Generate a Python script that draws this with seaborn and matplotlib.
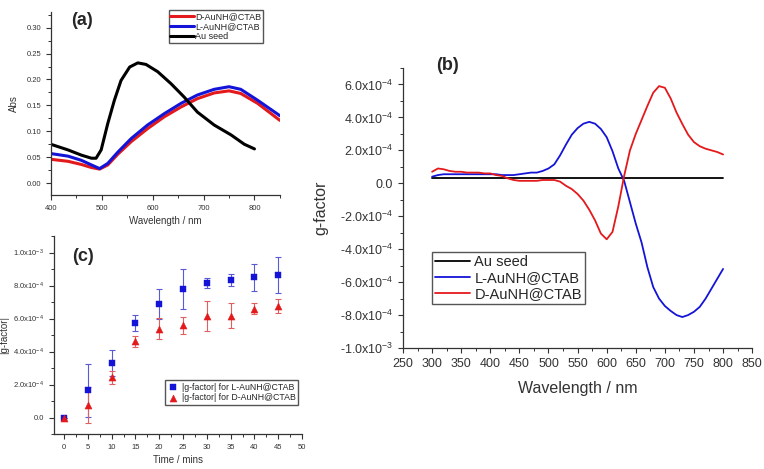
import numpy as np
import pandas as pd
import matplotlib
matplotlib.use("Agg")
import matplotlib.pyplot as plt
import seaborn as sns
from matplotlib.ticker import MultipleLocator, FuncFormatter

# ---- panel (a): absorbance spectra ----
seed_wl = [400, 434, 460, 480, 489, 499, 512, 525, 538, 555, 571, 587, 610, 636, 662, 688, 721, 754, 780, 800]
seed_abs = [0.075, 0.064, 0.054, 0.048, 0.048, 0.064, 0.115, 0.160, 0.198, 0.224, 0.232, 0.229, 0.215, 0.192, 0.166, 0.137, 0.112, 0.093, 0.075, 0.066]

nh_wl = [400, 434, 460, 480, 496, 512, 532, 558, 590, 623, 656, 688, 721, 750, 773, 806, 850]
l_abs = [0.057, 0.052, 0.044, 0.035, 0.028, 0.038, 0.060, 0.086, 0.112, 0.134, 0.154, 0.170, 0.181, 0.186, 0.181, 0.160, 0.130]
d_abs = [0.046, 0.042, 0.036, 0.030, 0.027, 0.035, 0.056, 0.080, 0.105, 0.128, 0.147, 0.163, 0.174, 0.178, 0.173, 0.154, 0.121]

# ---- panel (b): g-factor spectra (units of 1e-4), 300..800 nm every 10 nm ----
cd_wl = np.arange(300, 801, 10)
seed_g = [0.3] * 51
l_g = [0.4, 0.5, 0.55, 0.55, 0.55, 0.55, 0.55, 0.55, 0.55, 0.55,
       0.55, 0.55, 0.5, 0.5, 0.5, 0.55, 0.6, 0.65, 0.65, 0.75,
       0.9, 1.15, 1.7, 2.35, 2.95, 3.35, 3.62, 3.73, 3.62, 3.3,
       2.8, 1.95, 0.9, 0.15, -1.15, -2.45, -3.6, -5.1, -6.3, -7.0,
       -7.45, -7.75, -8.0, -8.12, -8.0, -7.8, -7.5, -7.0, -6.4, -5.8,
       -5.2]
d_g = [0.7, 0.9, 0.85, 0.75, 0.7, 0.7, 0.65, 0.65, 0.65, 0.6,
       0.6, 0.5, 0.45, 0.3, 0.2, 0.15, 0.15, 0.15, 0.15, 0.2,
       0.2, 0.2, 0.1, -0.15, -0.35, -0.65, -1.05, -1.6, -2.25, -3.05,
       -3.4, -2.95, -1.4, 0.45, 2.0, 3.0, 3.85, 4.7, 5.5, 5.9,
       5.8, 5.15, 4.3, 3.6, 2.95, 2.5, 2.25, 2.1, 2.0, 1.9,
       1.75]

# ---- panel (c): |g-factor| vs time (units of 1e-4) ----
times = [0, 5, 10, 15, 20, 25, 30, 35, 40, 45]
l_abs_g = [0.0, 1.65, 3.3, 5.74, 6.9, 7.79, 8.13, 8.33, 8.49, 8.65]
l_err = [0.0, 1.6, 0.8, 0.48, 0.9, 1.2, 0.3, 0.38, 0.8, 1.1]
d_abs_g = [0.0, 0.76, 2.43, 4.61, 5.39, 5.59, 6.14, 6.18, 6.6, 6.76]
d_err = [0.0, 1.1, 0.4, 0.33, 0.63, 0.5, 0.9, 0.78, 0.33, 0.42]

RED = "#e3191c"
BLUE = "#1414d8"

sns.set_style("ticks")
plt.rcParams["font.family"] = ["Liberation Sans", "DejaVu Sans"]
plt.rcParams["mathtext.default"] = "regular"
plt.rcParams["xtick.direction"] = "out"
plt.rcParams["ytick.direction"] = "out"


def sci_fmt(v, pos):
    if abs(v) < 1e-12:
        return "0.0"
    e = int(np.floor(np.log10(abs(v)) + 1e-9))
    m = v / 10 ** e
    return f"{m:.1f}x10$^{{{e}}}$"


def origin_axes(ax, fs):
    for s in ["top", "right"]:
        ax.spines[s].set_visible(False)
    for s in ["left", "bottom"]:
        ax.spines[s].set_linewidth(0.9)
        ax.spines[s].set_color("#333333")
    ax.tick_params(which="major", length=3.5, width=0.8, labelsize=fs, colors="#333333")
    ax.tick_params(which="minor", length=2, width=0.7, colors="#333333")


fig = plt.figure(figsize=(7.64, 4.69), dpi=100)

# (a)
ax_a = fig.add_axes([0.0664, 0.5842, 0.300, 0.390])
sns.lineplot(x=nh_wl, y=d_abs, ax=ax_a, color=RED, lw=2.2, label="D-AuNH@CTAB")
sns.lineplot(x=nh_wl, y=l_abs, ax=ax_a, color=BLUE, lw=2.2, label="L-AuNH@CTAB")
sns.lineplot(x=seed_wl, y=seed_abs, ax=ax_a, color="black", lw=2.2, label="Au seed")
ax_a.set_xlim(400, 850)
ax_a.set_ylim(-0.023, 0.33)
ax_a.xaxis.set_major_locator(MultipleLocator(100))
ax_a.xaxis.set_minor_locator(MultipleLocator(50))
ax_a.yaxis.set_major_locator(MultipleLocator(0.05))
ax_a.yaxis.set_minor_locator(MultipleLocator(0.025))
ax_a.yaxis.set_major_formatter(FuncFormatter(lambda v, p: f"{v:.2f}"))
origin_axes(ax_a, 5.5)
ax_a.set_xlabel("Wavelength / nm", fontsize=7, color="#333333", labelpad=3)
ax_a.set_ylabel("Abs", fontsize=7, color="#333333", labelpad=5)
ax_a.legend(loc="upper right", bbox_to_anchor=(0.925, 1.01), fontsize=6.5, frameon=True,
            fancybox=False, edgecolor="#555555", framealpha=1, borderpad=0.2,
            labelspacing=0.1, handlelength=2.6, handletextpad=0.1, borderaxespad=0)
ax_a.text(0.09, 0.955, "(a)", transform=ax_a.transAxes, fontsize=13, fontweight="bold",
          ha="left", va="center")

# (b)
ax_b = fig.add_axes([0.5275, 0.258, 0.457, 0.597])
sns.lineplot(x=cd_wl, y=np.array(seed_g) * 1e-4, ax=ax_b, color="black", lw=1.3, label="Au seed")
sns.lineplot(x=cd_wl, y=np.array(l_g) * 1e-4, ax=ax_b, color=BLUE, lw=1.3, label="L-AuNH@CTAB")
sns.lineplot(x=cd_wl, y=np.array(d_g) * 1e-4, ax=ax_b, color=RED, lw=1.3, label="D-AuNH@CTAB")
ax_b.set_xlim(250, 850)
ax_b.set_ylim(-1.0e-3, 7.0e-4)
ax_b.xaxis.set_major_locator(MultipleLocator(50))
ax_b.xaxis.set_minor_locator(MultipleLocator(25))
ax_b.yaxis.set_major_locator(MultipleLocator(2e-4))
ax_b.yaxis.set_minor_locator(MultipleLocator(1e-4))
ax_b.yaxis.set_major_formatter(FuncFormatter(sci_fmt))
origin_axes(ax_b, 9)
ax_b.set_xlabel("Wavelength / nm", fontsize=11.5, color="#333333", labelpad=8)
ax_b.set_ylabel("g-factor", fontsize=11.5, color="#333333", labelpad=8)
ax_b.legend(loc="lower left", bbox_to_anchor=(0.083, 0.157), fontsize=10.5, frameon=True,
            fancybox=False, edgecolor="#555555", framealpha=1, borderpad=0.2,
            labelspacing=0.15, handlelength=2.4, handletextpad=0.3, borderaxespad=0)
ax_b.text(0.095, 1.01, "(b)", transform=ax_b.transAxes, fontsize=13, fontweight="bold",
          ha="left", va="center")

# (c)
ax_c = fig.add_axes([0.0707, 0.0746, 0.3246, 0.422])
ax_c.errorbar(times, np.array(l_abs_g) * 1e-4, yerr=np.array(l_err) * 1e-4, fmt="none",
              ecolor="#5a5ad8", elinewidth=0.8, capsize=2, capthick=0.8)
ax_c.errorbar(times, np.array(d_abs_g) * 1e-4, yerr=np.array(d_err) * 1e-4, fmt="none",
              ecolor="#e06060", elinewidth=0.8, capsize=2, capthick=0.8)
sns.scatterplot(x=times, y=np.array(l_abs_g) * 1e-4, ax=ax_c, marker="s", color=BLUE, s=22,
                edgecolor=BLUE, linewidth=0.3, label="|g-factor| for L-AuNH@CTAB", zorder=3)
sns.scatterplot(x=times, y=np.array(d_abs_g) * 1e-4, ax=ax_c, marker="^", color=RED, s=26,
                edgecolor=RED, linewidth=0.3, label="|g-factor| for D-AuNH@CTAB", zorder=3)
ax_c.set_xlim(-2.1, 50)
ax_c.set_ylim(-1.0e-4, 1.1e-3)
ax_c.xaxis.set_major_locator(MultipleLocator(5))
ax_c.xaxis.set_minor_locator(MultipleLocator(2.5))
ax_c.yaxis.set_major_locator(MultipleLocator(2e-4))
ax_c.yaxis.set_minor_locator(MultipleLocator(1e-4))
ax_c.yaxis.set_major_formatter(FuncFormatter(sci_fmt))
origin_axes(ax_c, 5.5)
ax_c.set_xlabel("Time / mins", fontsize=7, color="#333333", labelpad=3)
ax_c.set_ylabel("|g-factor|", fontsize=7, color="#333333", labelpad=3)
ax_c.legend(loc="lower left", bbox_to_anchor=(0.448, 0.146), fontsize=6.3, frameon=True,
            fancybox=False, edgecolor="#555555", framealpha=1, borderpad=0.3,
            labelspacing=0.2, handlelength=1.2, handletextpad=0.4, borderaxespad=0)
ax_c.text(0.073, 0.895, "(c)", transform=ax_c.transAxes, fontsize=13, fontweight="bold",
          ha="left", va="center")

fig.savefig("out.png", dpi=100)
